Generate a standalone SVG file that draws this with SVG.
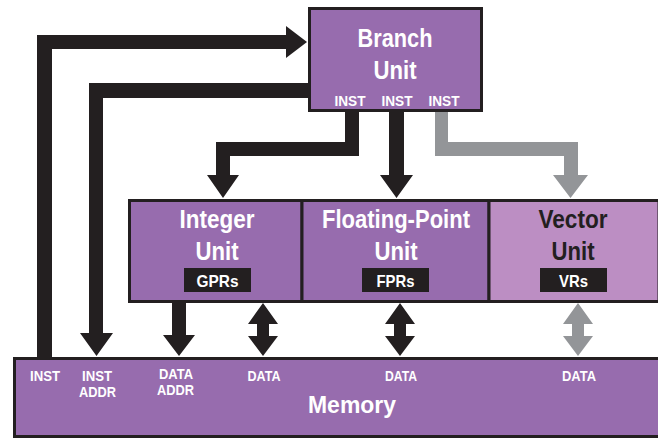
<svg xmlns="http://www.w3.org/2000/svg" width="658" height="439" viewBox="0 0 658 439">
<style>
.box{fill:#976cae;stroke:#231f20;stroke-width:3}
.lbox{fill:#bc8ec3;stroke:#231f20;stroke-width:3}
.reg{fill:#231f20}
.t{font-family:"Liberation Sans",Arial,sans-serif;font-weight:bold;text-anchor:middle;fill:#fff}
.big{font-size:26px}
.mem{font-size:23px}
.rt{font-size:17px}
.sm{font-size:14px}
.ml{font-size:15.5px}
.dk{fill:#231f20}
.blk{fill:#231f20}
.gry{fill:#939598}
</style>
<rect width="658" height="439" fill="#fff"/>
<g id="connectors">
<path class="blk" d="M37,357 V35 H286 V26 L307,42 L286,58 V49 H52 V357 Z"/>
<path class="blk" d="M309,83 H89 V333 H80 L96.5,356 L113,333 H103 V98 H309 Z"/>
<path class="blk" d="M345,111 V142 H216 V175 H207 L223,198 L239,175 H230 V156 H359 V111 Z"/>
<path class="blk" d="M389,111 V175 H380 L396.5,198 L413,175 H404 V111 Z"/>
<path class="gry" d="M435,111 V156 H564 V175 H553 L570.5,198 L588,175 H578 V142 H448 V111 Z"/>
<path class="blk" d="M172,302 V335 H163 L179,356 L195,335 H186 V302 Z"/>
<path class="blk" d="M263,303 L278,324 H269 V336 H278 L263,356 L248,336 H257 V324 H248 Z"/>
<path class="blk" d="M400,303 L415,324 H406 V336 H415 L400,356 L385,336 H394 V324 H385 Z"/>
<path class="gry" d="M578,303 L593,324 H584 V336 H593 L578,356 L563,336 H572 V324 H563 Z"/>
</g>
<g id="branch">
<rect class="box" x="309.5" y="8.5" width="172" height="102"/>
<text class="t big" x="395" y="47" textLength="75" lengthAdjust="spacingAndGlyphs">Branch</text>
<text class="t big" x="395" y="79" textLength="43" lengthAdjust="spacingAndGlyphs">Unit</text>
<text class="t sm" x="350" y="106" textLength="31" lengthAdjust="spacingAndGlyphs">INST</text>
<text class="t sm" x="397" y="106" textLength="31" lengthAdjust="spacingAndGlyphs">INST</text>
<text class="t sm" x="444" y="106" textLength="31" lengthAdjust="spacingAndGlyphs">INST</text>
</g>
<g id="integer">
<rect class="box" x="129.5" y="200.5" width="172.5" height="101"/>
<text class="t big" x="217" y="228" textLength="75" lengthAdjust="spacingAndGlyphs">Integer</text>
<text class="t big" x="217" y="260" textLength="43" lengthAdjust="spacingAndGlyphs">Unit</text>
<rect class="reg" x="184" y="268" width="67" height="24"/>
<text class="t rt" x="217.5" y="287" textLength="42" lengthAdjust="spacingAndGlyphs">GPRs</text>
</g>
<g id="fp">
<rect class="box" x="302" y="200.5" width="187" height="101"/>
<text class="t big" x="396" y="228" textLength="148" lengthAdjust="spacingAndGlyphs">Floating-Point</text>
<text class="t big" x="396" y="260" textLength="43" lengthAdjust="spacingAndGlyphs">Unit</text>
<rect class="reg" x="362" y="268" width="67" height="24"/>
<text class="t rt" x="395.5" y="287" textLength="38" lengthAdjust="spacingAndGlyphs">FPRs</text>
</g>
<g id="vector">
<rect class="lbox" x="489" y="200.5" width="170" height="101"/>
<text class="t big dk" x="573" y="228" textLength="69" lengthAdjust="spacingAndGlyphs">Vector</text>
<text class="t big dk" x="573" y="260" textLength="43" lengthAdjust="spacingAndGlyphs">Unit</text>
<rect class="reg" x="540" y="268" width="67" height="24"/>
<text class="t rt" x="573.5" y="287" textLength="29" lengthAdjust="spacingAndGlyphs">VRs</text>
</g>
<g id="memory">
<rect class="box" x="14.5" y="358.5" width="650" height="78"/>
<text class="t ml" x="45" y="381" textLength="30" lengthAdjust="spacingAndGlyphs">INST</text>
<text class="t ml" x="97" y="381" textLength="30" lengthAdjust="spacingAndGlyphs">INST</text>
<text class="t ml" x="97.5" y="397" textLength="37" lengthAdjust="spacingAndGlyphs">ADDR</text>
<text class="t ml" x="176" y="379" textLength="34" lengthAdjust="spacingAndGlyphs">DATA</text>
<text class="t ml" x="175.5" y="395" textLength="37" lengthAdjust="spacingAndGlyphs">ADDR</text>
<text class="t ml" x="264" y="381" textLength="33" lengthAdjust="spacingAndGlyphs">DATA</text>
<text class="t ml" x="401" y="381" textLength="32" lengthAdjust="spacingAndGlyphs">DATA</text>
<text class="t ml" x="579" y="381" textLength="34" lengthAdjust="spacingAndGlyphs">DATA</text>
<text class="t mem" x="352" y="413" textLength="88" lengthAdjust="spacingAndGlyphs">Memory</text>
</g>
</svg>
